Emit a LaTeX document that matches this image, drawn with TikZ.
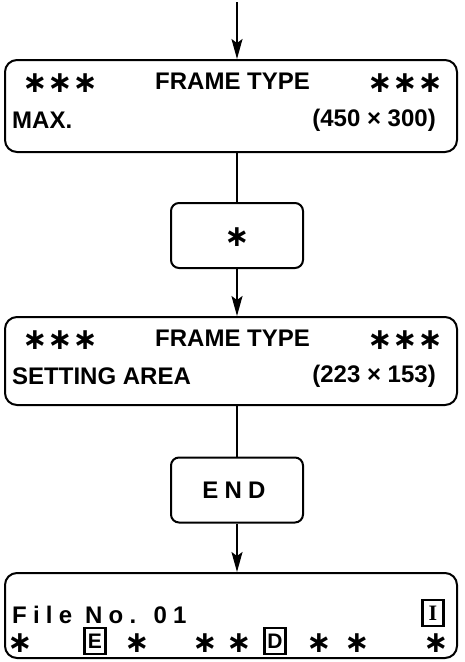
\documentclass[tikz,border=0pt]{standalone}
\usepackage{fontspec}
\setmainfont{Liberation Sans}
\newfontfamily\symfont{DejaVu Sans}
\newfontfamily\spacedfont[LetterSpace=26]{Liberation Sans}
\newfontfamily\keyfont{Liberation Serif}
\usetikzlibrary{arrows.meta}
\newcommand{\astk}{{\symfont\bfseries ∗}}
\begin{document}
\begin{tikzpicture}[x=1pt,y=-1pt,
  panel/.style={draw, line width=2pt, rounded corners=12pt, minimum width=452pt, inner sep=0pt},
  smallbox/.style={draw, line width=2pt, rounded corners=8pt, minimum width=132pt, minimum height=65pt, inner sep=0pt},
  txt/.style={inner sep=0pt, font=\bfseries\fontsize{24}{28}\selectfont},
  astx/.style={inner sep=0pt, font=\fontsize{30}{30}\selectfont},
  keybox/.style={draw, line width=2.6pt, inner sep=0pt, minimum width=21pt, minimum height=26pt, font=\bfseries\fontsize{21}{24}\selectfont},
  link/.style={line width=2pt},
  flow/.style={line width=2pt, -{Stealth[length=20pt,width=11pt,inset=4pt]}}]
\useasboundingbox (0,0) rectangle (465,662);
% panels
\node[panel, minimum height=92pt] (p1) at (231,106) {};
\node[smallbox] (s1) at (237,235.5) {};
\node[astx] (s1t) at (237,237) {\astk};
\node[panel, minimum height=88pt] (p3) at (231,361) {};
\node[smallbox] (s2) at (237,490) {};
\node[txt, font=\spacedfont\bfseries\fontsize{24}{26}\selectfont] (s2t) at (234,490) {END};
\node[panel, minimum height=85pt] (p5) at (231,615.5) {};
% panel 1 texts
\node[astx] (a1) at (60,83) {\astk\astk\astk};
\node[txt, anchor=west] (t1) at (155,81) {FRAME TYPE};
\node[astx] (a2) at (405,83) {\astk\astk\astk};
\node[txt, anchor=west] (t2) at (12,120) {MAX.};
\node[txt, anchor=east] (t3) at (436,120) {(450\;×\;300)};
% panel 3 texts
\node[astx] (a3) at (60,340) {\astk\astk\astk};
\node[txt, anchor=west] (t4) at (155,338) {FRAME TYPE};
\node[astx] (a4) at (405,340) {\astk\astk\astk};
\node[txt, anchor=west] (t5) at (12,376) {SETTING AREA};
\node[txt, anchor=east] (t6) at (436,376) {(223\;×\;153)};
% panel 5 texts
\node[txt, anchor=west, font=\spacedfont\bfseries\fontsize{24}{26}\selectfont] (t7) at (12,615) {File No. 01};
\node[keybox, font=\keyfont\bfseries\fontsize{22}{24}\selectfont] (kI) at (433,613) {I};
\node[astx] (b1) at (20,643) {\astk};
\node[keybox] (kE) at (95,641) {E};
\node[astx] (b2) at (137,643) {\astk};
\node[astx] (b3) at (205,643) {\astk};
\node[astx] (b4) at (239,643) {\astk};
\node[keybox] (kD) at (275,641) {D};
\node[astx] (b5) at (319,643) {\astk};
\node[astx] (b6) at (357,643) {\astk};
\node[astx] (b7) at (436,643) {\astk};
% connectors
\coordinate (start) at (237,2);
\draw[flow] (start) -- (start |- p1.north);
\draw[link] (s1.north |- p1.south) -- (s1.north);
\draw[flow] (s1.south) -- (s1.south |- p3.north);
\draw[link] (s2.north |- p3.south) -- (s2.north);
\draw[flow] (s2.south) -- (s2.south |- p5.north);
\end{tikzpicture}
\end{document}
